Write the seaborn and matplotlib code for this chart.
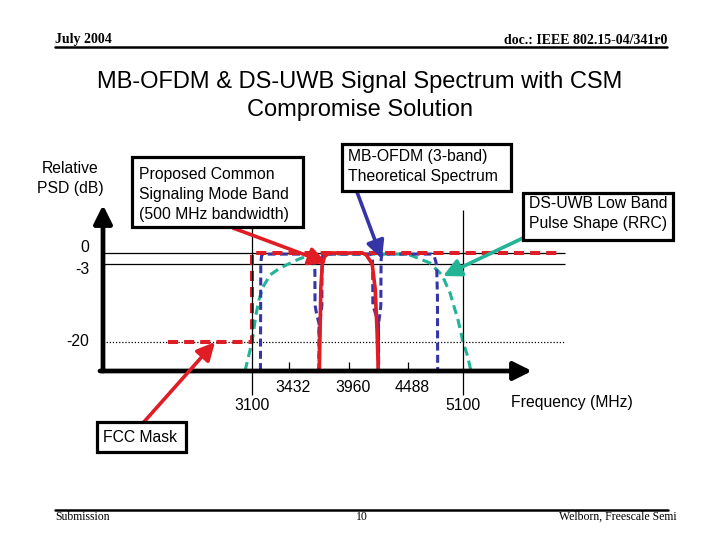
import numpy as np
import matplotlib
matplotlib.use('Agg')
import matplotlib.pyplot as plt
import seaborn as sns
from matplotlib.patches import Rectangle
from matplotlib.transforms import blended_transform_factory

# Data (frequency in MHz, relative PSD in dB)
fcc_f = [2355, 3100, 3100, 5943]
fcc_db = [-20, -20, 0, 0]

csm_f = [3698, 3705, 3712, 3725, 3745, 3780, 4080, 4115, 4168, 4195, 4212, 4222]
csm_db = [-30, -18, -8, -3, -1, 0, 0, -0.5, -3, -8.5, -18, -30]

band1_f = [3175, 3178, 3185, 3195, 3650, 3657, 3659, 3660, 3675, 3696, 3698]
band1_db = [-30, -3, -0.8, -0.3, -0.3, -1.5, -5, -12, -14, -16, -30]
band2_f = [3694, 3696, 3712, 3721, 3722, 3724, 3732, 4160, 4170, 4173, 4174, 4200, 4224, 4226]
band2_db = [-30, -16, -14, -12, -5, -1.5, -0.3, -0.3, -1.5, -5, -12, -14, -16, -30]
band3_f = [4222, 4224, 4236, 4245, 4246, 4248, 4256, 4697, 4720, 4735, 4742, 4748, 4750]
band3_db = [-30, -16, -14, -12, -5, -1.5, -0.3, -0.3, -1, -2.5, -4.5, -10, -30]

dsuwb_f = [3038, 3100, 3135, 3162, 3198, 3260, 3348, 3499, 3588, 3703,
           4484, 4679, 4809, 4920, 5031, 5100, 5142, 5170]
dsuwb_db = [-30, -20, -14.1, -10.8, -8.0, -5.4, -3.9, -1.9, -0.8, -0.3,
            -0.3, -2.7, -5.4, -9.3, -15.2, -20, -25, -30]

ref_levels = [0, -3]
ref_dotted = -20
major_ticks = [3100, 5100]
minor_ticks = [3432, 3960, 4488]

RED = '#e01c24'
BLUE = '#3535a8'
TEAL = '#22b495'

# schematic (non-linear) axes of the slide
fx_anchor = [-5000, 3100, 4752, 5100, 15000]
px_anchor = [252 - 8100 * 0.1127, 252, 437.9, 463, 463 + 9900 * 0.1127]
db_anchor = [-300, -30, -20, -3, 0, 300]
py_anchor = [169 - 270 * 2.9, 169, 198, 276, 287, 287 + 300 * 3.67]


def fwd_x(v):
    return np.interp(v, fx_anchor, px_anchor)


def inv_x(v):
    return np.interp(v, px_anchor, fx_anchor)


def fwd_y(v):
    return np.interp(v, db_anchor, py_anchor)


def inv_y(v):
    return np.interp(v, py_anchor, db_anchor)


def P(x, y):
    return (x / 720, 1 - y / 540)


sns.set_theme(style='white')
plt.rcParams['font.family'] = ['Liberation Sans', 'DejaVu Sans']
plt.rcParams['text.color'] = 'black'

fig = plt.figure(figsize=(7.2, 5.4), dpi=100)
ax = fig.add_axes([0, 0, 1, 1])

left_f = float(inv_x(103))
right_f = float(inv_x(565))

# reference levels
ax.hlines(ref_levels, left_f, right_f, color='black', lw=0.9)
ax.hlines(ref_dotted, left_f, right_f, color='black', lw=0.9, linestyles=(0, (1, 1.5)))

# spectra
sns.lineplot(x=dsuwb_f, y=dsuwb_db, ax=ax, color=TEAL, lw=2.2, sort=False,
             estimator=None, linestyle=(0, (3, 1.7)))
for bf, bd in [(band1_f, band1_db), (band2_f, band2_db), (band3_f, band3_db)]:
    sns.lineplot(x=bf, y=bd, ax=ax, color=BLUE, lw=2.2, sort=False,
                 estimator=None, linestyle=(0, (2.6, 1.4)))
sns.lineplot(x=fcc_f, y=fcc_db, ax=ax, color=RED, lw=2.9, sort=False,
             estimator=None, linestyle=(0, (2.5, 1.5)))
sns.lineplot(x=csm_f, y=csm_db, ax=ax, color=RED, lw=2.6, sort=False, estimator=None)

ax.set_xscale('function', functions=(fwd_x, inv_x))
ax.set_yscale('function', functions=(fwd_y, inv_y))
ax.set_xlim(inv_x(0), inv_x(720))
ax.set_ylim(inv_y(0), inv_y(540))
ax.set_axis_off()

# axes with arrows
ax.annotate('', xy=(left_f, float(inv_y(540 - 205))), xytext=(left_f, -30),
            arrowprops=dict(arrowstyle='-|>,head_length=0.5,head_width=0.25',
                            color='black', lw=3.4, shrinkA=0, shrinkB=0, mutation_scale=22))
ax.annotate('', xy=(float(inv_x(532)), -30), xytext=(float(inv_x(100)), -30),
            arrowprops=dict(arrowstyle='-|>,head_length=0.5,head_width=0.25',
                            color='black', lw=3.4, shrinkA=0, shrinkB=0, mutation_scale=22))

# ticks
tr = blended_transform_factory(ax.transData, fig.transFigure)
ax.vlines(major_ticks[0], P(0, 395)[1], P(0, 228)[1], color='black', lw=0.9, transform=tr)
ax.vlines(major_ticks[1], P(0, 395)[1], P(0, 210)[1], color='black', lw=0.9, transform=tr)
ax.vlines(minor_ticks, P(0, 372)[1], P(0, 362)[1], color='black', lw=0.9, transform=tr)
for t in major_ticks:
    ax.text(t, P(0, 406)[1], str(t), transform=tr, ha='center', va='center', fontsize=11.3)
for t in minor_ticks:
    ax.text(t + 35, P(0, 387)[1], str(t), transform=tr, ha='center', va='center', fontsize=11.3)

fs = 11.3
fig.text(*P(70, 169), 'Relative', ha='center', va='center', fontsize=fs)
fig.text(*P(70, 188), 'PSD (dB)', ha='center', va='center', fontsize=fs)
fig.text(*P(89, 247), '0', ha='right', va='center', fontsize=fs)
fig.text(*P(89, 269), '-3', ha='right', va='center', fontsize=fs)
fig.text(*P(89, 342), '-20', ha='right', va='center', fontsize=fs)
fig.text(*P(511, 403), 'Frequency (MHz)', ha='left', va='center', fontsize=fs)

# title
fig.text(*P(360, 82), 'MB-OFDM & DS-UWB Signal Spectrum with CSM', ha='center', va='center', fontsize=17)
fig.text(*P(360, 110), 'Compromise Solution', ha='center', va='center', fontsize=17)

# callout boxes
boxes = [
    ((132, 157, 303, 227), 139, [175, 194, 214],
     ['Proposed Common', 'Signaling Mode Band', '(500 MHz bandwidth)']),
    ((342, 144, 511, 191), 348, [157, 176], ['MB-OFDM (3-band)', 'Theoretical Spectrum']),
    ((523, 193, 673, 240), 529, [204, 224], ['DS-UWB Low Band', 'Pulse Shape (RRC)']),
    ((97, 422, 186, 452), 103, [437], ['FCC Mask']),
]
for (x0, y0, x1, y1), tx, tys, lines in boxes:
    fig.add_artist(Rectangle(P(x0, y1), (x1 - x0) / 720, (y1 - y0) / 540,
                             transform=fig.transFigure, fc='white', ec='black', lw=2.3, zorder=2))
    for ty, s in zip(tys, lines):
        fig.text(*P(tx, ty), s, ha='left', va='center', fontsize=fs, zorder=3)

arrows = [((233, 228), (327, 263), RED), ((357, 192), (382, 259), BLUE),
          ((523, 238), (443, 276), TEAL), ((143, 423), (215, 342), RED)]
for tail, tip, c in arrows:
    ax.annotate('', xy=P(*tip), xytext=P(*tail), xycoords='figure fraction',
                textcoords='figure fraction',
                arrowprops=dict(arrowstyle='-|>,head_length=0.6,head_width=0.3', color=c,
                                lw=2.6, shrinkA=0, shrinkB=0, mutation_scale=18))

# slide header / footer
serif = ['Liberation Serif', 'DejaVu Serif']
fig.text(*P(55, 40), 'July 2004', ha='left', va='center', fontsize=10, weight='bold', family=serif)
fig.text(*P(667, 41), 'doc.: IEEE 802.15-04/341r0', ha='right', va='center', fontsize=10,
         weight='bold', family=serif)
fig.add_artist(plt.Line2D([55 / 720, 667 / 720], [1 - 47 / 540] * 2, color='black', lw=1.8,
                          transform=fig.transFigure))
fig.add_artist(plt.Line2D([55 / 720, 668 / 720], [1 - 510 / 540] * 2, color='black', lw=1.8,
                          transform=fig.transFigure))
fig.text(*P(55, 517), 'Submission', ha='left', va='center', fontsize=8.5, family=serif)
fig.text(*P(362, 517), '10', ha='center', va='center', fontsize=8.5, family=serif)
fig.text(*P(677, 517), 'Welborn, Freescale Semi', ha='right', va='center', fontsize=8.5, family=serif)

fig.savefig('out.png', dpi=100)
